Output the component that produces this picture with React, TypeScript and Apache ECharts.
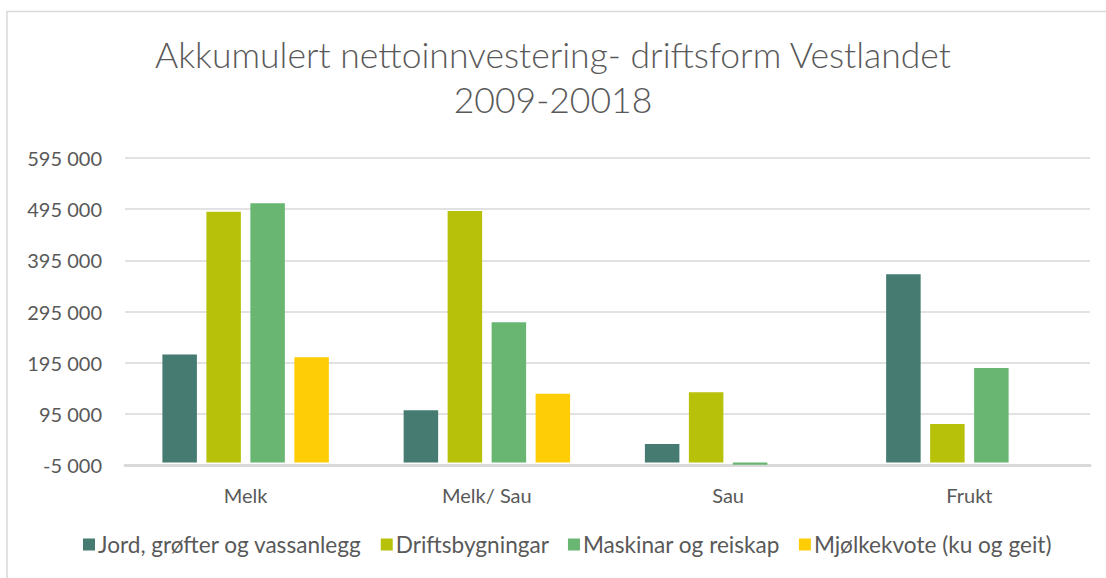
import React, { useEffect, useRef } from "react";
import * as echarts from "echarts";

const categories = ["Melk", "Melk/ Sau", "Sau", "Frukt"];
const seriesNames = [
  "Jord, grøfter og vassanlegg",
  "Driftsbygningar",
  "Maskinar og reiskap",
  "Mjølkekvote (ku og geit)",
];
const jord = [211000, 102000, 36000, 368000];
const drifts = [490000, 491500, 137000, 75300];
const maskinar = [506500, 274200, -4500, 184800];
const mjolk = [205400, 134400, 0, 0];
const colors = ["#457B71", "#B8C10A", "#69B673", "#FFCD06"];
const yMin = -5000;
const yMax = 595000;
const yStep = 100000;

const fmt = (v: number) =>
  String(v).replace(/\B(?=(\d{3})+(?!\d))/g, " ");

export default function App() {
  const ref = useRef<HTMLDivElement>(null);
  useEffect(() => {
    if (!ref.current) return;
    const chart = echarts.init(ref.current, null, { renderer: "svg" });
    const font = "Lato, 'Open Sans', sans-serif";
    const values = [jord, drifts, maskinar, mjolk];
    chart.setOption({
      animation: false,
      textStyle: { fontFamily: font },
      graphic: [
        {
          type: "rect",
          shape: { x: 7, y: 11.5, width: 1300, height: 800 },
          style: { fill: "none", stroke: "#d9d9d9", lineWidth: 1.5 },
          silent: true,
        },
      ],
      title: {
        text: "Akkumulert nettoinnvestering- driftsform Vestlandet\n2009-20018",
        left: "center",
        top: 27,
        textStyle: {
          fontFamily: font,
          fontWeight: 300,
          fontSize: 35.5,
          color: "#595959",
          lineHeight: 45,
        },
      },
      legend: {
        bottom: 17,
        left: 78,
        icon: "rect",
        itemWidth: 12,
        itemHeight: 12,
        itemGap: 19,
        textStyle: { fontFamily: font, fontSize: 22.6, color: "#595959", padding: [0, 0, 0, -2] },
        data: seriesNames,
      },
      grid: { left: 125, right: 16, top: 158, bottom: 113, containLabel: false },
      xAxis: {
        type: "category",
        data: categories,
        axisLine: { onZero: false, lineStyle: { color: "#d9d9d9", width: 3 } },
        axisTick: { show: false },
        axisLabel: { color: "#595959", fontSize: 20, margin: 20, fontFamily: font },
      },
      yAxis: {
        type: "value",
        min: yMin,
        max: yMax,
        interval: yStep,
        axisLine: { show: false },
        axisTick: { show: false },
        splitLine: { lineStyle: { color: "#d9d9d9", width: 1.5 } },
        axisLabel: {
          color: "#595959",
          fontSize: 20,
          margin: 23,
          fontFamily: font,
          formatter: (v: number) => fmt(v),
        },
      },
      series: seriesNames.map((name, i) => ({
        name,
        type: "bar",
        data: values[i],
        barGap: "27.5%",
        barCategoryGap: "31%",
        itemStyle: { color: colors[i] },
      })),
    });
    return () => chart.dispose();
  }, []);
  return (
    <div
      ref={ref}
      style={{ position: "fixed", left: 0, top: 0, width: 1106, height: 578, background: "#fff" }}
    />
  );
}
